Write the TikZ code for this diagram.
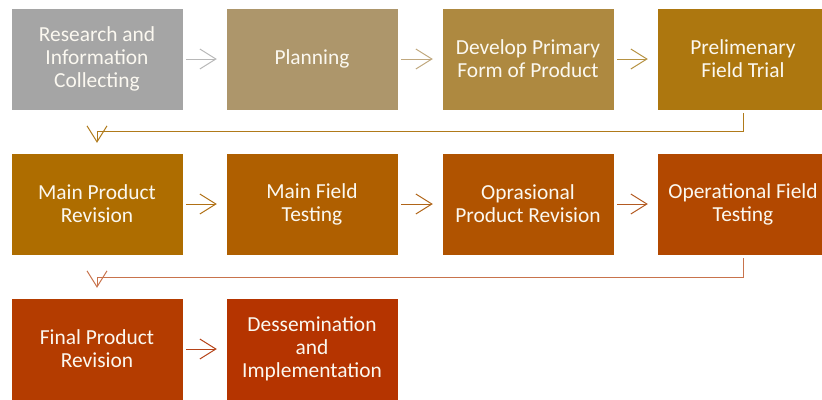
\documentclass[tikz,border=0pt]{standalone}
\usepackage{fontspec}
\setmainfont{Carlito}
\usetikzlibrary{arrows.meta}
\definecolor{c1}{HTML}{A5A5A5}
\definecolor{c2}{HTML}{AD966B}
\definecolor{c3}{HTML}{AE8940}
\definecolor{c4}{HTML}{AD770F}
\definecolor{c5}{HTML}{AE6D00}
\definecolor{c6}{HTML}{AF5F00}
\definecolor{c7}{HTML}{B05300}
\definecolor{c8}{HTML}{B24800}
\definecolor{c9}{HTML}{B43C00}
\definecolor{c10}{HTML}{B53400}
\definecolor{a1}{HTML}{B8B8B8}
\definecolor{a2}{HTML}{C0A87E}
\definecolor{a3}{HTML}{B69242}
\definecolor{f1}{HTML}{B07A1A}
\definecolor{a5}{HTML}{B07015}
\definecolor{a6}{HTML}{B06518}
\definecolor{a7}{HTML}{B35A22}
\definecolor{f2}{HTML}{C8734C}
\definecolor{a9}{HTML}{B54318}
\definecolor{txt}{HTML}{FBF8F0}
\tikzset{
  stepbox/.style={rectangle, draw=white, line width=0.4bp, minimum width=172bp, minimum height=102bp,
    inner sep=0pt, align=center, text=txt, font=\fontsize{21.5}{23}\selectfont},
  harrow/.style={line width=1bp, -{Straight Barb[length=16bp,width=20bp]}, shorten <=3bp, shorten >=9bp},
  fbarrow/.style={line width=1bp, -{Straight Barb[length=16bp,width=20bp]}, shorten <=3bp, shorten >=10bp}
}
\begin{document}
\begin{tikzpicture}[x=1bp,y=-1bp]
\useasboundingbox (0,0) rectangle (822,399);
\node[stepbox, fill=c1] (b1) at (97,59) {Research and\\Information\\Collecting};
\node[stepbox, fill=c2] (b2) at (312,59) {Planning};
\node[stepbox, fill=c3] (b3) at (528,59) {Develop Primary\\Form of Product};
\node[stepbox, fill=c4] (b4) at (743,59) {Prelimenary\\Field Trial};
\node[stepbox, fill=c5] (b5) at (97,204) {Main Product\\Revision};
\node[stepbox, fill=c6] (b6) at (312,204) {Main Field\\Testing};
\node[stepbox, fill=c7] (b7) at (528,204) {Oprasional\\Product Revision};
\node[stepbox, fill=c8] (b8) at (743,204) {Operational Field\\Testing};
\node[stepbox, fill=c9] (b9) at (97,349) {Final Product\\Revision};
\node[stepbox, fill=c10] (b10) at (312,349) {Dessemination\\and\\Implementation};
\coordinate (k1) at (97,131);
\coordinate (k2) at (97,277);
\draw[harrow, draw=a1] (b1) -- (b2);
\draw[harrow, draw=a2] (b2) -- (b3);
\draw[harrow, draw=a3] (b3) -- (b4);
\draw[fbarrow, draw=f1] (b4.south) |- (k1) -- (b5.north);
\draw[harrow, draw=a5] (b5) -- (b6);
\draw[harrow, draw=a6] (b6) -- (b7);
\draw[harrow, draw=a7] (b7) -- (b8);
\draw[fbarrow, draw=f2] (b8.south) |- (k2) -- (b9.north);
\draw[harrow, draw=a9] (b9) -- (b10);
\end{tikzpicture}
\end{document}
